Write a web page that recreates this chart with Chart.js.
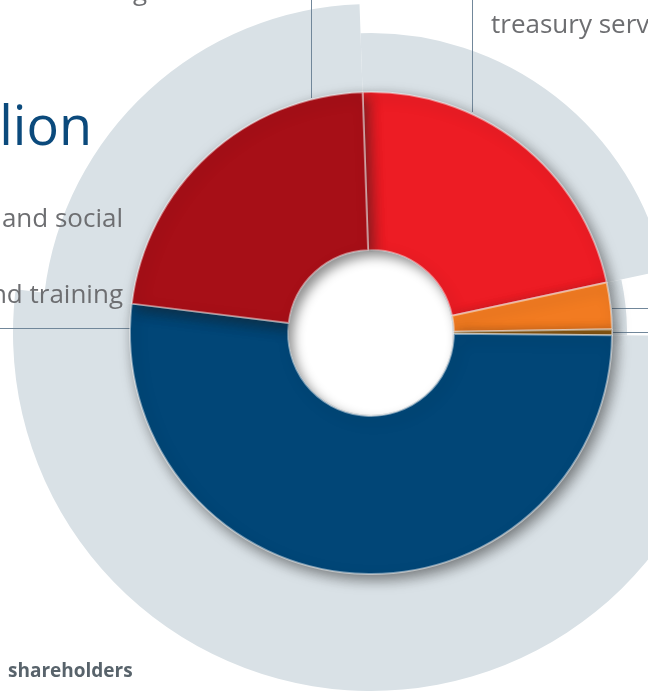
<!DOCTYPE html>
<html>
<head>
<meta charset="utf-8">
<script src="https://cdn.jsdelivr.net/npm/chart.js@4/dist/chart.umd.min.js"></script>
<style>
  body { margin: 0; background: #fff; }
  #stage {
    position: relative;
    width: 648px;
    height: 691px;
    overflow: hidden;
    background: #fff;
    font-family: "Open Sans", "Noto Sans", sans-serif;
  }
  canvas { position: absolute; left: 11px; top: -27px; }
  .txt {
    position: absolute;
    white-space: nowrap;
    line-height: 1;
    color: #6d6e71;
    font-size: 26px;
  }
  .lead { position: absolute; background: #71879a; }
</style>
</head>
<body>
<div id="stage">
  <canvas id="backdrop" width="720" height="720"></canvas>

  <div class="txt" style="left:133px; top:-23px;">g</div>
  <div class="txt" style="left:491px; top:10px;">treasury services</div>
  <div class="txt" style="right:556px; top:97px; font-size:54px; color:#0b4a7c;">billion</div>
  <div class="txt" style="right:525px; top:204px; text-align:right;">and social</div>
  <div class="txt" style="right:525px; top:280px; text-align:right;">and training</div>
  <div class="txt" style="left:8px; top:661px; font-size:19px; font-weight:700; color:#58636b;">shareholders</div>

  <div class="lead" style="left:311px; top:0; width:1px; height:98px;"></div>
  <div class="lead" style="left:472px; top:0; width:1px; height:112px;"></div>
  <div class="lead" style="left:0; top:328px; width:131px; height:1px;"></div>
  <div class="lead" style="left:612px; top:308px; width:36px; height:1px;"></div>
  <div class="lead" style="left:613px; top:332px; width:35px; height:1px;"></div>

  <canvas id="donut" width="720" height="720"></canvas>
</div>

<script>
// categories, clockwise from the top
const categories = [
  "Treasury services",
  "Other",
  "Minor",
  "Shareholders",
  "Education and training"
];

// share of the total, percent
const shares = [22.2, 3.1, 0.4, 51.8, 22.5];

// grey backdrop series (radial scale 0-360)
const backdropValues = [300, 256, 256, 358, 329];

const sliceColors = ["#ed1c24", "#f27b21", "#8c5a12", "#014677", "#a70f17"];

const startAngle = -2;

// grey polar backdrop, each wedge as wide as its donut slice
new Chart(document.getElementById("backdrop"), {
    type: "polarArea",
    data: {
        labels: categories,
        datasets: [{
            data: backdropValues,
            backgroundColor: "#d9e1e6",
            borderWidth: 0,
            angle: (ctx) => shares[ctx.dataIndex] * 3.6
        }]
    },
    options: {
        responsive: false,
        animation: false,
        layout: { padding: 0 },
        plugins: {
            legend: { display: false },
            tooltip: { enabled: false }
        },
        scales: {
            r: {
                display: false,
                min: 0,
                max: 360,
                startAngle: startAngle
            }
        }
    }
});

// drop shadow under the ring, white hole with a soft inner shadow
const shading = {
    id: "shading",
    beforeDatasetDraw(chart) {
        const ctx = chart.ctx;
        ctx.save();
        ctx.shadowColor = "rgba(30,30,30,0.55)";
        ctx.shadowBlur = 14;
        ctx.shadowOffsetX = 4;
        ctx.shadowOffsetY = 5;
    },
    afterDatasetDraw(chart) {
        chart.ctx.restore();
    },
    afterDatasetsDraw(chart) {
        const arc = chart.getDatasetMeta(0).data[0];
        if (!arc) return;
        const { x, y, innerRadius } = arc.getProps(["x", "y", "innerRadius"], true);
        const r = innerRadius - 1;
        const ctx = chart.ctx;
        ctx.save();
        ctx.beginPath();
        ctx.arc(x, y, r, 0, Math.PI * 2);
        ctx.clip();
        ctx.fillStyle = "#fff";
        ctx.fillRect(x - r, y - r, r * 2, r * 2);
        ctx.beginPath();
        ctx.rect(x - r * 3, y - r * 3, r * 6, r * 6);
        ctx.arc(x, y, r + 1, 0, Math.PI * 2, true);
        ctx.shadowColor = "rgba(0,0,0,0.45)";
        ctx.shadowBlur = 12;
        ctx.shadowOffsetX = 5;
        ctx.shadowOffsetY = 6;
        ctx.fillStyle = "#9a9a9a";
        ctx.fill("evenodd");
        ctx.restore();
    }
};

new Chart(document.getElementById("donut"), {
    type: "doughnut",
    data: {
        labels: categories,
        datasets: [{
            data: shares,
            backgroundColor: sliceColors,
            borderColor: "rgba(255,255,255,0.45)",
            borderWidth: 2
        }]
    },
    options: {
        responsive: false,
        animation: false,
        rotation: startAngle,
        radius: 241,
        cutout: "34.4%",
        layout: { padding: 0 },
        plugins: {
            legend: { display: false },
            tooltip: { enabled: false }
        }
    },
    plugins: [shading]
});
</script>
</body>
</html>
